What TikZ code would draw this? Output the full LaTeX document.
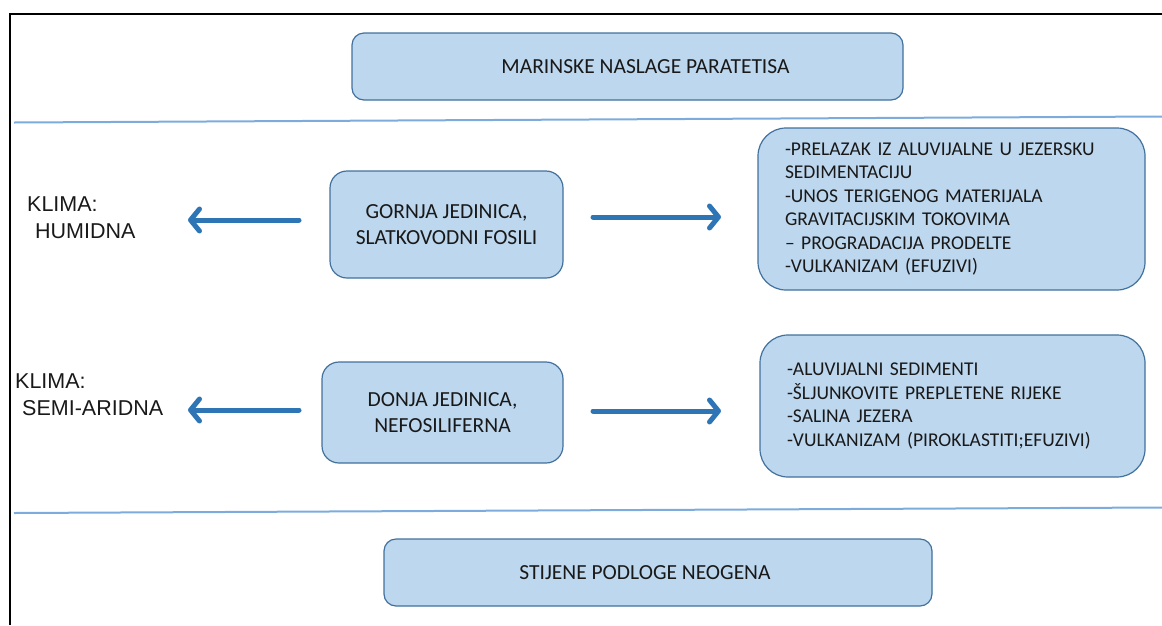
\documentclass[tikz,border=0pt]{standalone}
\usepackage{fontspec}
\setmainfont{Carlito}
\newfontfamily\klimafont{Liberation Sans}
\usetikzlibrary{arrows.meta, positioning}
\definecolor{boxblue}{RGB}{189,215,238}
\definecolor{boxedge}{RGB}{65,113,156}
\definecolor{arrblue}{RGB}{46,117,182}
\definecolor{sepblue}{RGB}{125,172,220}
\definecolor{ink}{RGB}{25,25,25}

\begin{document}
\begin{tikzpicture}[x=1pt, y=-1pt,
  ubox/.style={draw=boxedge, fill=boxblue, line width=1.2pt, rounded corners=13pt, inner sep=0pt, text=ink},
  bigtxt/.style={font=\fontsize{21.5}{26}\selectfont, align=center, text=ink, inner sep=0pt},
  listbox/.style={ubox, rounded corners=28pt, align=left, inner xsep=27pt, font=\fontsize{19.5}{23.5}\selectfont},
  klima/.style={anchor=west, inner sep=0pt, align=left, font=\klimafont\fontsize{21.5}{27}\selectfont, text=ink},
  barrow/.style={arrblue, line width=5pt, line cap=round, -{Straight Barb[length=9pt, width=22pt, round]}},
  sepline/.style={sepblue, line width=2pt}
]
  \useasboundingbox (0,0) rectangle (1162,625);
  \draw[line width=2.5pt] (10,625) -- (10,14) -- (1162,14);

  \coordinate (sep1a) at (14,122.5); \coordinate (sep1b) at (1162,116.5);
  \coordinate (sep2a) at (14,513); \coordinate (sep2b) at (1162,507.5);
  \draw[sepline] (sep1a) -- (sep1b);
  \draw[sepline] (sep2a) -- (sep2b);

  \node[ubox, minimum width=551pt, minimum height=67pt, rounded corners=12pt] (marine) at (627.5,66.5) {};
  \node[bigtxt] (marinetxt) at ([xshift=18pt]marine.center) {MARINSKE NASLAGE PARATETISA};

  \node[ubox, bigtxt, minimum width=233pt, minimum height=107pt, rounded corners=17pt] (gornja) at (446.5,224.5) {GORNJA JEDINICA,\\SLATKOVODNI FOSILI};
  \node[ubox, bigtxt, minimum width=241pt, minimum height=101pt, rounded corners=17pt] (donja) at (442.5,412.5) {DONJA JEDINICA,\\NEFOSILIFERNA};

  \node[listbox, text width=333pt, minimum height=162pt] (gornjalist) at (951.5,209) {-PRELAZAK IZ ALUVIJALNE U JEZERSKU\\SEDIMENTACIJU\\-UNOS TERIGENOG MATERIJALA\\GRAVITACIJSKIM TOKOVIMA\\-- PROGRADACIJA PRODELTE\\-VULKANIZAM (EFUZIVI)};
  \node[listbox, text width=331pt, minimum height=142pt] (donjalist) at (952.5,406) {-ALUVIJALNI SEDIMENTI\\-ŠLJUNKOVITE PREPLETENE RIJEKE\\-SALINA JEZERA\\-VULKANIZAM (PIROKLASTITI;EFUZIVI)};

  \node[klima] (humid) at (27,218) {KLIMA:\\\hspace*{8pt}HUMIDNA};
  \node[klima] (arid) at (15,395) {KLIMA:\\\hspace*{7pt}SEMI-ARIDNA};

  \node[ubox, minimum width=548pt, minimum height=67pt, rounded corners=12pt] (podloga) at (658,572.5) {};
  \node[bigtxt] (podlogatxt) at ([xshift=-13pt]podloga.center) {STIJENE PODLOGE NEOGENA};

  \coordinate (hum1) at (299,220); \coordinate (hum2) at (188,220);
  \coordinate (gor1) at (593,217); \coordinate (gor2) at (721,217);
  \coordinate (ari1) at (299,410); \coordinate (ari2) at (188,410);
  \coordinate (don1) at (593,411); \coordinate (don2) at (721,411);
  \draw[barrow] (hum1) -- (hum2);
  \draw[barrow] (gor1) -- (gor2);
  \draw[barrow] (ari1) -- (ari2);
  \draw[barrow] (don1) -- (don2);
\end{tikzpicture}
\end{document}
